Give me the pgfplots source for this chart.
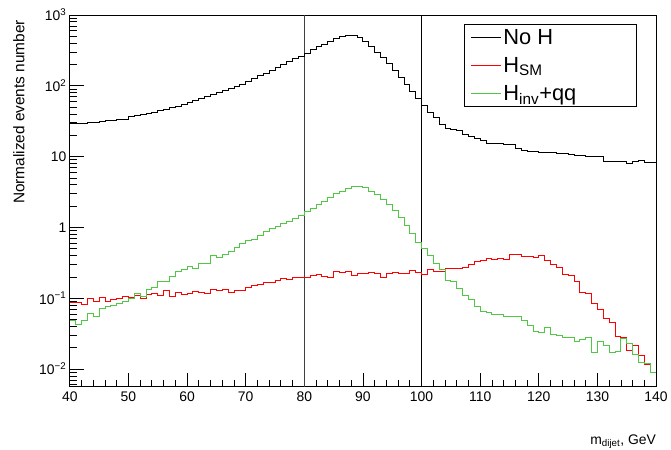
\documentclass[border=0pt]{standalone}
\usepackage{fontspec}
\setmainfont{Liberation Sans}
\usepackage{pgfplots}
\usepackage{pgfplotstable}
\pgfplotsset{compat=1.18}
\definecolor{rootred}{RGB}{255,0,0}
\definecolor{rootgreen}{RGB}{80,200,70}

\pgfplotstableread{
x y
40 29.17
41 29.31
42 29.51
43 30.06
44 30.55
45 30.90
46 32.73
47 32.89
48 33.11
49 33.27
50 36.31
51 37.58
52 38.90
53 40.27
54 42.17
55 44.16
56 46.24
57 48.98
58 51.29
59 54.95
60 58.88
61 62.37
62 66.07
63 70.79
64 74.99
65 79.43
66 85.11
67 91.20
68 97.72
69 105.9
70 114.8
71 125.9
72 138.0
73 151.4
74 166.0
75 182.0
76 199.5
77 218.8
78 239.9
79 263.0
80 288.4
81 323.6
82 354.8
83 389.0
84 426.6
85 467.7
86 501.2
87 518.8
88 512.9
89 478.6
90 416.9
91 354.8
92 295.1
93 251.2
94 208.9
95 166.0
96 131.8
97 104.7
98 83.18
99 66.07
100 52.48
101 42.66
102 35.48
103 28.84
104 25.12
105 23.99
106 23.44
107 20.42
108 19.05
109 18.20
110 16.98
111 15.49
112 15.31
113 15.14
114 14.96
115 14.79
116 13.18
117 12.02
118 11.89
119 11.75
120 11.61
121 11.48
122 11.38
123 10.96
124 11.09
125 10.72
126 10.47
127 10.23
128 10.00
129 9.886
130 10.00
131 8.414
132 8.511
133 8.610
134 8.511
135 7.943
136 8.511
137 8.710
138 8.318
139 8.222
140 8.222
}\noh

\pgfplotstableread{
x y
40 0.0871
41 0.0871
42 0.0805
43 0.1000
44 0.0908
45 0.1023
46 0.0891
47 0.0955
48 0.1000
49 0.1054
50 0.1023
51 0.1079
52 0.0989
53 0.1114
54 0.1151
55 0.1091
56 0.1268
57 0.1047
58 0.1189
59 0.1138
60 0.1175
61 0.1227
62 0.1202
63 0.1175
64 0.1309
65 0.1288
66 0.1340
67 0.1216
68 0.1297
69 0.1268
70 0.1413
71 0.1493
72 0.1549
73 0.1660
74 0.1660
75 0.1754
76 0.1892
77 0.1820
78 0.1954
79 0.1954
80 0.1954
81 0.2109
82 0.2178
83 0.2042
84 0.1954
85 0.2350
86 0.2291
87 0.2427
88 0.2109
89 0.2249
90 0.2249
91 0.2291
92 0.2249
93 0.1954
94 0.2249
95 0.2291
96 0.2203
97 0.2223
98 0.2455
99 0.2291
100 0.2153
101 0.2570
102 0.2427
103 0.2427
104 0.2673
105 0.2618
106 0.2661
107 0.2735
108 0.2979
109 0.3281
110 0.3467
111 0.3622
112 0.3548
113 0.3656
114 0.3548
115 0.4121
116 0.4121
117 0.3945
118 0.3945
119 0.3819
120 0.4036
121 0.3388
122 0.3048
123 0.2735
124 0.2178
125 0.2109
126 0.1698
127 0.1202
128 0.1164
129 0.0851
130 0.0700
131 0.0518
132 0.0454
133 0.0285
134 0.0276
135 0.0185
136 0.0213
137 0.0154
138 0.0117
139 0.00897
140 0.00897
}\hsm

\pgfplotstableread{
x y
40 0.0479
41 0.0422
42 0.0479
43 0.0608
44 0.0550
45 0.0716
46 0.0759
47 0.0794
48 0.0851
49 0.0912
50 0.1000
51 0.1161
52 0.1054
53 0.1340
54 0.1413
55 0.1698
56 0.1698
57 0.2061
58 0.2399
59 0.2512
60 0.2793
61 0.2673
62 0.3112
63 0.3112
64 0.4036
65 0.3819
66 0.4169
67 0.4645
68 0.5284
69 0.5888
70 0.6637
71 0.6776
72 0.7621
73 0.8710
74 0.9572
75 1.023
76 1.138
77 1.227
78 1.324
79 1.476
80 1.698
81 1.832
82 2.109
83 2.350
84 2.618
85 3.013
86 3.243
87 3.508
88 3.741
89 3.819
90 3.622
91 3.243
92 2.917
93 2.477
94 2.109
95 1.754
96 1.368
97 1.067
98 0.8222
99 0.6209
100 0.5012
101 0.4036
102 0.3112
103 0.2512
104 0.1778
105 0.1698
106 0.1368
107 0.1102
108 0.0948
109 0.0764
110 0.0656
111 0.0628
112 0.0589
113 0.0589
114 0.0552
115 0.0552
116 0.0552
117 0.0480
118 0.0407
119 0.0336
120 0.0328
121 0.0382
122 0.0311
123 0.0295
124 0.0276
125 0.0282
126 0.0248
127 0.0265
128 0.0276
129 0.0172
130 0.0243
131 0.0218
132 0.0172
133 0.0179
134 0.0270
135 0.0228
136 0.0161
137 0.0122
138 0.0119
139 0.0090
140 0.0090
}\hinv

\begin{document}
\begin{tikzpicture}
\begin{axis}[
  scale only axis, width=588bp, height=373bp,
  xmin=40, xmax=140,
  ymode=log, ymin=0.0056, ymax=1000,
  xtick={40,50,...,140}, minor x tick num=4,
  ytick={0.01,0.1,1,10,100,1000},
  yticklabels={10\textsuperscript{−2},10\textsuperscript{−1},1,10,10\textsuperscript{2},10\textsuperscript{3}},
  minor ytick={0.006,0.007,0.008,0.009,0.02,0.03,0.04,0.05,0.06,0.07,0.08,0.09,0.2,0.3,0.4,0.5,0.6,0.7,0.8,0.9,2,3,4,5,6,7,8,9,20,30,40,50,60,70,80,90,200,300,400,500,600,700,800,900},
  tick align=inside, tick pos=left,
  major tick length=14bp, minor tick length=7bp,
  tick style={black, line width=0.8bp},
  axis line style={line width=0.8bp},
  /pgf/number format/assume math mode=true,
  tick label style={font=\fontsize{14}{16}\selectfont},
  xticklabel style={yshift=-1.5bp},
  ylabel={Normalized events number},
  ylabel style={font=\fontsize{15.5}{18}\selectfont, at={(axis description cs:-0.077,0.987)}, anchor=south east, inner sep=0pt},
  xlabel={m\textsubscript{dijet}, GeV},
  xlabel style={font=\fontsize{14}{16}\selectfont, at={(axis description cs:1,-0.128)}, anchor=north east, inner sep=0pt},
  legend style={at={(axis description cs:0.673,0.976)}, anchor=north west, draw=black, line width=0.8bp,
    font=\fontsize{22}{24}\selectfont, inner xsep=6bp, inner ysep=3bp, row sep=7.5bp},
  legend cell align=left,
  legend image code/.code={\draw[#1, line width=0.8bp] (0bp,0bp) -- (30bp,0bp);},
]
\addplot[black!75, line width=1.2bp, forget plot] coordinates {(80,0.0056) (80,1000)};
\addplot[black, line width=1bp, forget plot] coordinates {(100,0.0056) (100,1000)};
\addplot[black, line width=0.9bp, const plot mark left] table {\noh};
\addlegendentry{\makebox[125bp][l]{No H}}
\addplot[rootred, line width=0.9bp, const plot mark left] table {\hsm};
\addlegendentry{\makebox[125bp][l]{H\textsubscript{SM}}}
\addplot[rootgreen, line width=0.9bp, const plot mark left] table {\hinv};
\addlegendentry{\makebox[125bp][l]{H\textsubscript{inv}+qq}}
\end{axis}
\path (current axis.south west) ++(-70bp,-63bp) rectangle ++(671bp,451bp);
\end{tikzpicture}
\end{document}
